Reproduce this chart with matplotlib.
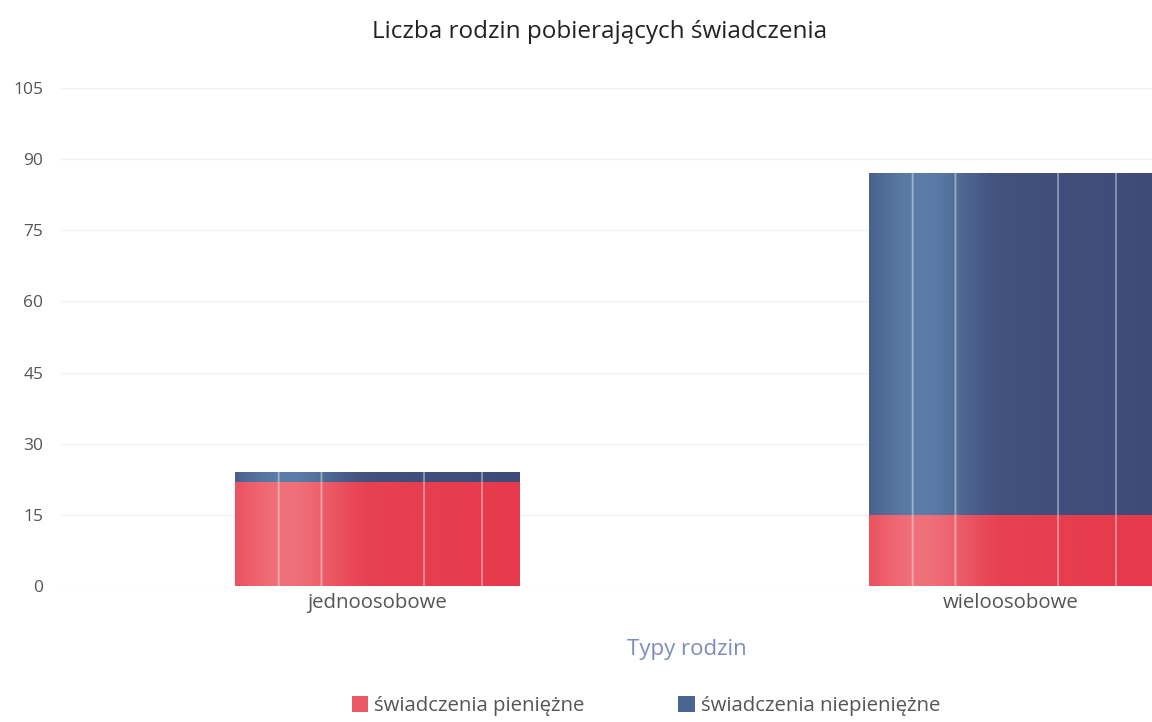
import numpy as np
import matplotlib
matplotlib.use("Agg")
import matplotlib.pyplot as plt
from matplotlib.colors import to_rgb
from matplotlib.patches import Patch

# data
categories = ["jednoosobowe", "wieloosobowe"]
pieniezne = [22, 15]
niepieniezne = [2, 72]
series_names = ["świadczenia pieniężne", "świadczenia niepieniężne"]
y_ticks = [0, 15, 30, 45, 60, 75, 90, 105]

plt.rcParams['font.family'] = ['Open Sans', 'DejaVu Sans']

W, H = 1152, 722
fig = plt.figure(figsize=(W / 100, H / 100), dpi=100)
# the right half of the plot area runs off the picture, as in the original
ax = fig.add_axes([60 / W, 1 - 586 / H, (1328 - 60) / W, (586 - 88) / H])

bar_w = 0.448
x = np.arange(len(categories))


def stripe_colors(base, light, n=300):
    # horizontal shading: lighter on the left, with thin pale vertical lines
    b = np.array(to_rgb(base))
    l = np.array(to_rgb(light))
    u = np.linspace(0, 1, n)
    t = np.clip(np.exp(-((u - 0.18) / 0.2) ** 2) * 0.85, 0, 1)
    t = np.maximum(t, 0.2 * (1 - u))
    cols = b[None, :] * (1 - t[:, None]) + l[None, :] * t[:, None]
    for pos in [0.15, 0.30, 0.66, 0.865]:
        k = int(pos * n)
        cols[k:k + 2] = cols[k:k + 2] * 0.6 + np.array([1, 1, 1]) * 0.4
    return cols[None, :, :]


red_img = stripe_colors("#e63a4c", "#f27a82")
blue_img = stripe_colors("#3f4a78", "#5f87b0")

bottoms = np.zeros(len(categories))
for vals, img, col in [(pieniezne, red_img, "#e63a4c"), (niepieniezne, blue_img, "#3f4a78")]:
    bars = ax.bar(x, vals, bar_w, bottom=bottoms, color=col, linewidth=0, zorder=2)
    for b in bars:
        x0, y0 = b.get_x(), b.get_y()
        im = ax.imshow(img, extent=[x0, x0 + b.get_width(), y0, y0 + b.get_height()],
                       aspect="auto", zorder=3, interpolation="bilinear")
        im.set_clip_path(b)
    bottoms += np.array(vals)

ax.set_xlim(-0.5, 1.5)
ax.set_ylim(0, 105)
ax.set_yticks(y_ticks)
ax.set_xticks(x)
ax.set_xticklabels(categories, fontsize=14.7, color="#555555")
ax.tick_params(axis="y", labelsize=12.5, labelcolor="#555555", length=0, pad=12)
ax.tick_params(axis="x", length=0, pad=5)
ax.grid(axis="y", color="#f3f3f3", linewidth=1, zorder=0)
for s in ax.spines.values():
    s.set_visible(False)

fig.text(600 / W, 1 - 32 / H, "Liczba rodzin pobierających świadczenia",
         ha="center", va="center", fontsize=17.5, color="#222222")
fig.text(687 / W, 1 - 650 / H, "Typy rodzin", ha="center", va="center",
         fontsize=16, color="#7d8bbf")

handles = [Patch(facecolor="#ec5865", edgecolor="none"),
           Patch(facecolor="#4a6592", edgecolor="none")]
fig.legend(handles, series_names, loc="center", bbox_to_anchor=(646 / W, 1 - 706 / H),
           ncol=2, frameon=False, fontsize=14.7, labelcolor="#555555",
           handlelength=0.8, handleheight=0.8, handletextpad=0.3, columnspacing=4.6)

fig.savefig("out.png", dpi=100)
